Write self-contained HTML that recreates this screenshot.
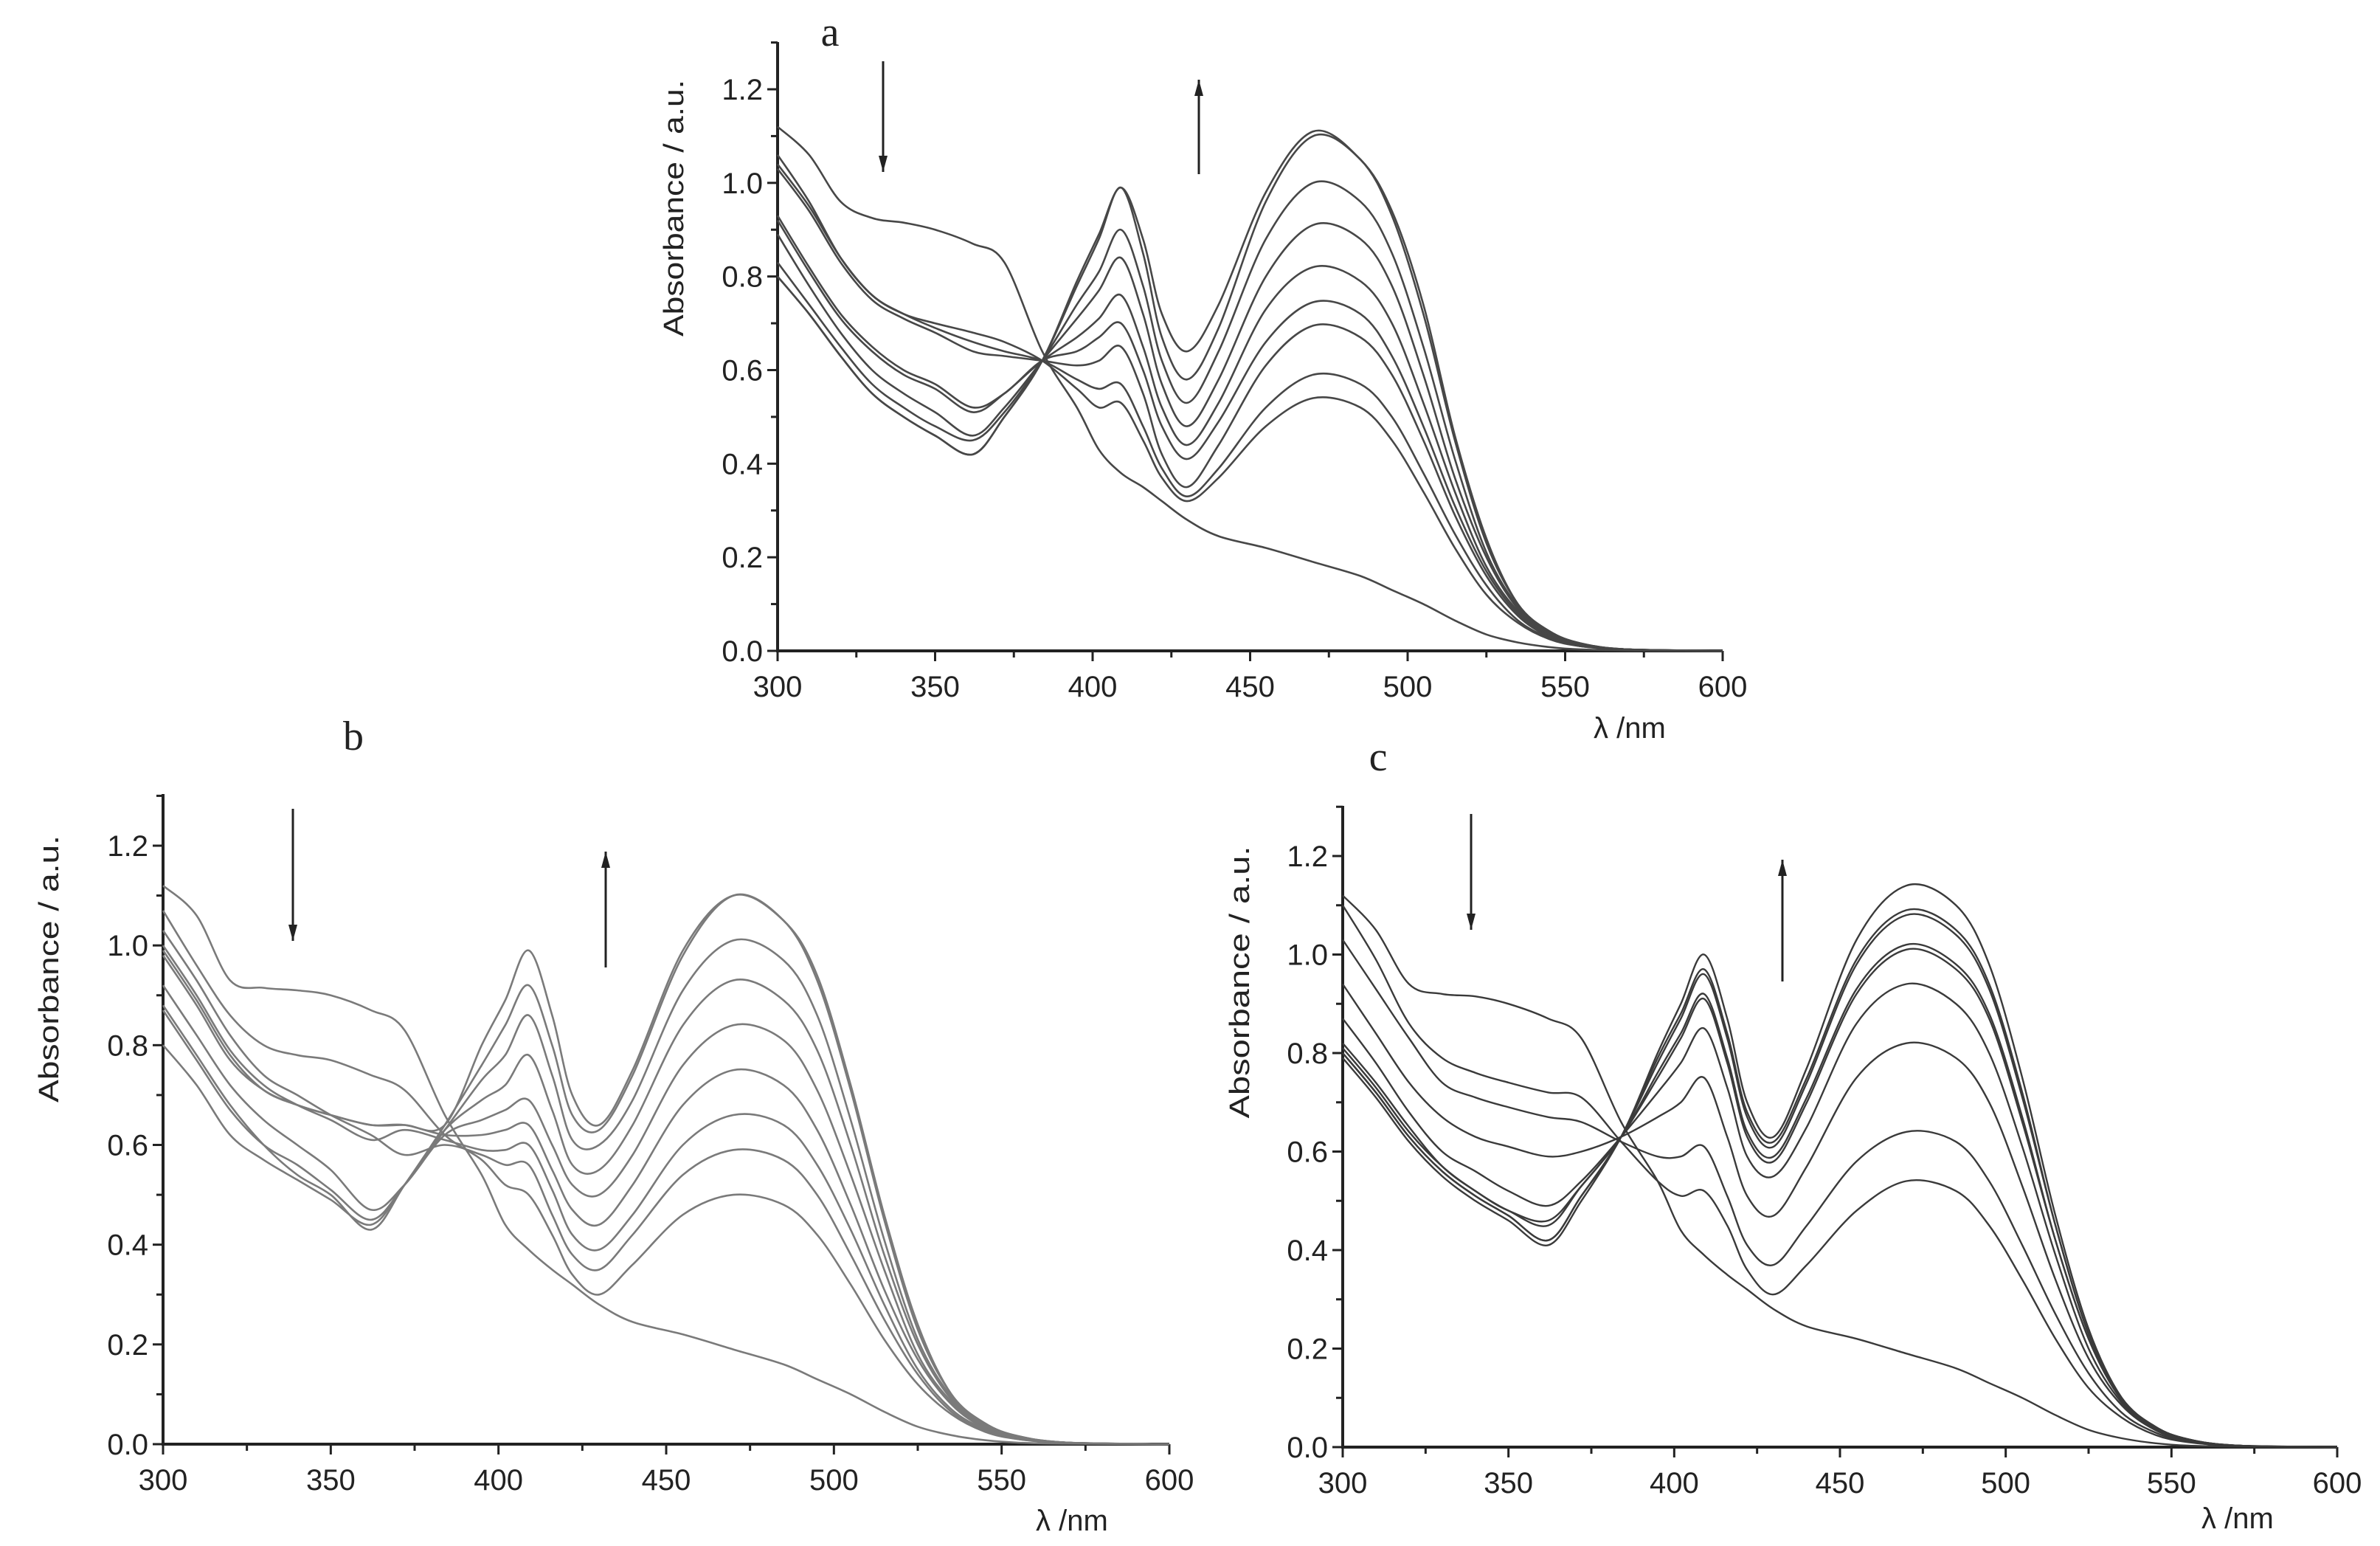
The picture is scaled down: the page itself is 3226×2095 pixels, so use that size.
<!DOCTYPE html>
<html><head><meta charset="utf-8"><style>
html,body{margin:0;padding:0;background:#fff;}
svg{display:block;}
text{font-family:"Liberation Sans",sans-serif;fill:#222;}
</style></head><body>
<svg id="fig" width="3226" height="2095" viewBox="0 0 3226 2095" xmlns="http://www.w3.org/2000/svg"></svg>
<script>
const wavelengths = [300,310,320,330,340,350,362,372,384,395,402,409,416,422,430,440,455,470,485,495,505,515,525,535,545,555,570,600];
const xTicks = [300,350,400,450,500,550,600];
const yTicks = [0.0,0.2,0.4,0.6,0.8,1.0,1.2];
const yTickLabels = ["0.0","0.2","0.4","0.6","0.8","1.0","1.2"];

const seriesA = [
 [1.12,1.06,0.96,0.925,0.915,0.90,0.87,0.83,0.64,0.52,0.43,0.38,0.35,0.32,0.28,0.245,0.22,0.19,0.16,0.13,0.10,0.065,0.035,0.018,0.008,0.003,0.001,0],
 [1.06,0.96,0.84,0.76,0.72,0.70,0.68,0.66,0.62,0.56,0.52,0.53,0.45,0.37,0.32,0.37,0.48,0.54,0.52,0.45,0.34,0.22,0.12,0.06,0.025,0.01,0.003,0],
 [1.04,0.95,0.84,0.76,0.72,0.69,0.66,0.64,0.62,0.58,0.56,0.57,0.48,0.39,0.33,0.39,0.52,0.59,0.57,0.50,0.38,0.25,0.14,0.065,0.028,0.01,0.003,0],
 [1.03,0.94,0.83,0.75,0.71,0.68,0.64,0.63,0.62,0.61,0.62,0.65,0.55,0.42,0.35,0.44,0.61,0.695,0.67,0.59,0.45,0.29,0.16,0.075,0.03,0.012,0.003,0],
 [0.93,0.82,0.72,0.65,0.60,0.57,0.52,0.55,0.62,0.64,0.67,0.70,0.60,0.48,0.41,0.49,0.66,0.745,0.72,0.63,0.48,0.31,0.17,0.08,0.032,0.012,0.003,0],
 [0.92,0.81,0.71,0.64,0.59,0.56,0.51,0.55,0.62,0.67,0.71,0.76,0.65,0.52,0.44,0.53,0.73,0.82,0.79,0.70,0.53,0.34,0.18,0.085,0.035,0.013,0.003,0],
 [0.89,0.78,0.68,0.60,0.55,0.51,0.46,0.52,0.62,0.71,0.77,0.84,0.72,0.57,0.48,0.58,0.80,0.91,0.88,0.78,0.59,0.37,0.20,0.09,0.037,0.014,0.003,0],
 [0.83,0.74,0.65,0.57,0.52,0.48,0.45,0.51,0.62,0.74,0.81,0.90,0.78,0.62,0.53,0.64,0.88,1.00,0.96,0.85,0.65,0.41,0.21,0.095,0.04,0.015,0.003,0],
 [0.80,0.72,0.63,0.55,0.50,0.46,0.42,0.50,0.62,0.78,0.88,0.99,0.85,0.67,0.58,0.69,0.96,1.10,1.05,0.93,0.72,0.45,0.23,0.10,0.042,0.016,0.003,0],
 [0.80,0.72,0.63,0.55,0.50,0.46,0.42,0.50,0.62,0.79,0.89,0.99,0.88,0.72,0.64,0.74,0.98,1.11,1.05,0.94,0.74,0.46,0.24,0.10,0.042,0.016,0.003,0]
];
const seriesB = [
 [1.12,1.06,0.93,0.915,0.91,0.90,0.87,0.83,0.66,0.54,0.44,0.39,0.35,0.32,0.28,0.245,0.22,0.19,0.16,0.13,0.10,0.065,0.035,0.018,0.008,0.003,0.001,0],
 [1.07,0.96,0.86,0.80,0.78,0.77,0.74,0.71,0.62,0.57,0.52,0.50,0.42,0.34,0.30,0.36,0.46,0.50,0.48,0.42,0.32,0.21,0.12,0.06,0.025,0.01,0.003,0],
 [1.03,0.93,0.82,0.74,0.70,0.66,0.62,0.58,0.60,0.58,0.56,0.56,0.46,0.38,0.35,0.42,0.54,0.59,0.57,0.50,0.38,0.25,0.14,0.065,0.028,0.01,0.003,0],
 [1.00,0.90,0.79,0.72,0.68,0.65,0.61,0.63,0.61,0.59,0.59,0.60,0.51,0.42,0.39,0.46,0.60,0.66,0.64,0.56,0.43,0.28,0.15,0.07,0.03,0.011,0.003,0],
 [0.99,0.89,0.78,0.71,0.68,0.66,0.64,0.64,0.62,0.62,0.63,0.64,0.55,0.47,0.44,0.52,0.68,0.75,0.72,0.63,0.48,0.31,0.17,0.08,0.032,0.012,0.003,0],
 [0.92,0.82,0.72,0.65,0.60,0.55,0.47,0.52,0.62,0.65,0.67,0.69,0.60,0.52,0.50,0.58,0.76,0.84,0.81,0.71,0.54,0.35,0.18,0.085,0.035,0.013,0.003,0],
 [0.87,0.77,0.67,0.60,0.56,0.51,0.45,0.52,0.63,0.69,0.72,0.78,0.67,0.56,0.55,0.64,0.84,0.93,0.89,0.79,0.60,0.38,0.20,0.09,0.037,0.014,0.003,0],
 [0.80,0.72,0.62,0.57,0.53,0.49,0.44,0.52,0.63,0.73,0.78,0.86,0.74,0.61,0.60,0.69,0.91,1.01,0.97,0.86,0.65,0.41,0.21,0.095,0.04,0.015,0.003,0],
 [0.88,0.78,0.68,0.60,0.54,0.50,0.43,0.52,0.64,0.76,0.84,0.92,0.80,0.66,0.63,0.74,0.98,1.10,1.05,0.93,0.71,0.45,0.23,0.10,0.042,0.016,0.003,0],
 [0.98,0.88,0.77,0.71,0.68,0.66,0.64,0.64,0.64,0.80,0.89,0.99,0.86,0.70,0.64,0.75,0.99,1.10,1.05,0.94,0.72,0.46,0.24,0.10,0.042,0.016,0.003,0]
];
const seriesC = [
 [1.12,1.05,0.94,0.92,0.915,0.90,0.87,0.83,0.66,0.54,0.44,0.39,0.35,0.32,0.28,0.245,0.22,0.19,0.16,0.13,0.10,0.065,0.035,0.018,0.008,0.003,0.001,0],
 [1.10,0.99,0.86,0.79,0.76,0.74,0.72,0.71,0.62,0.54,0.51,0.52,0.45,0.36,0.31,0.37,0.48,0.54,0.52,0.45,0.34,0.22,0.12,0.06,0.025,0.01,0.003,0],
 [1.03,0.93,0.83,0.74,0.71,0.69,0.67,0.66,0.62,0.59,0.59,0.61,0.51,0.41,0.37,0.45,0.58,0.64,0.62,0.54,0.41,0.27,0.15,0.07,0.03,0.011,0.003,0],
 [0.94,0.84,0.74,0.67,0.63,0.61,0.59,0.60,0.63,0.67,0.70,0.75,0.63,0.51,0.47,0.57,0.75,0.82,0.79,0.70,0.53,0.34,0.18,0.085,0.035,0.013,0.003,0],
 [0.87,0.78,0.68,0.60,0.56,0.52,0.49,0.54,0.63,0.72,0.78,0.85,0.73,0.59,0.55,0.65,0.86,0.94,0.90,0.80,0.61,0.39,0.20,0.09,0.037,0.014,0.003,0],
 [0.82,0.74,0.65,0.57,0.52,0.48,0.46,0.53,0.63,0.75,0.83,0.91,0.78,0.63,0.58,0.70,0.92,1.01,0.97,0.87,0.66,0.42,0.22,0.095,0.04,0.015,0.003,0],
 [0.81,0.73,0.64,0.57,0.52,0.48,0.45,0.53,0.63,0.76,0.84,0.92,0.79,0.64,0.59,0.71,0.93,1.02,0.98,0.88,0.67,0.42,0.22,0.095,0.04,0.015,0.003,0],
 [0.80,0.72,0.63,0.56,0.51,0.47,0.42,0.51,0.63,0.78,0.87,0.96,0.83,0.67,0.61,0.74,0.98,1.08,1.04,0.93,0.71,0.45,0.23,0.10,0.042,0.016,0.003,0],
 [0.79,0.71,0.62,0.55,0.50,0.46,0.41,0.50,0.63,0.79,0.88,0.97,0.84,0.68,0.62,0.75,0.99,1.09,1.05,0.94,0.72,0.45,0.23,0.10,0.042,0.016,0.003,0],
 [0.80,0.72,0.63,0.56,0.51,0.47,0.42,0.51,0.63,0.80,0.90,1.00,0.87,0.70,0.63,0.77,1.03,1.14,1.10,0.98,0.75,0.47,0.24,0.10,0.042,0.016,0.003,0]
];

const NS = "http://www.w3.org/2000/svg";
const svg = document.getElementById('fig');
function mk(tag, attrs, parent){ const e=document.createElementNS(NS,tag); for(const k in attrs) e.setAttribute(k,attrs[k]); (parent||svg).appendChild(e); return e; }

const panels = [
 {id:'a', series:seriesA, x0:1054, x1:2335, y0:882, y12:121, top:57, color:'#474747', w:2.6,
  label:{x:1125,y:62}, ylab:{x:926,y:282,len:348}, xlab:{x:2160,y:1000},
  down:{x:1197,y1:83,y2:233}, up:{x:1625,y1:108,y2:236}},
 {id:'b', series:seriesB, x0:221, x1:1585, y0:1957, y12:1146, top:1076, color:'#7a7a7a', w:2.6,
  label:{x:479,y:1016}, ylab:{x:79,y:1313,len:362}, xlab:{x:1404,y:2074},
  down:{x:397,y1:1096,y2:1275}, up:{x:821,y1:1154,y2:1311}},
 {id:'c', series:seriesC, x0:1820, x1:3168, y0:1961, y12:1160, top:1092, color:'#3a3a3a', w:2.4,
  label:{x:1868,y:1044}, ylab:{x:1693,y:1331,len:369}, xlab:{x:2984,y:2071},
  down:{x:1994,y1:1103,y2:1260}, up:{x:2416,y1:1165,y2:1330}}
];

function arrow(g, x, y1, y2, dir){
  const l = mk('line',{x1:x,y1:y1,x2:x,y2:y2,stroke:'#222','stroke-width':3},g);
  
  
  const tip = dir==='down'? y2 : y1;
  const s = dir==='down'? -1 : 1;
  const p = mk('polygon',{points:`${x-6},${tip+s*22} ${x+6},${tip+s*22} ${x},${tip}`,fill:'#222'},g);
  
  
}

panels.forEach(P=>{
  const g = mk('g',{});
  
  
  const sx = v => P.x0 + (v-300)/300*(P.x1-P.x0);
  const sy = v => P.y0 - v/1.2*(P.y0-P.y12);

  const ya = mk('line',{x1:P.x0,y1:P.top,x2:P.x0,y2:P.y0,stroke:'#222','stroke-width':4},g);
   
  const xa = mk('line',{x1:P.x0-2,y1:P.y0,x2:P.x1,y2:P.y0,stroke:'#222','stroke-width':4},g);
   

  for(let v=0; v<=1.3001; v+=0.1){
    const major = Math.abs(Math.round(v*10)%2)===0;
    const t = mk('line',{x1:P.x0-(major?14:9),y1:sy(v),x2:P.x0,y2:sy(v),stroke:'#222','stroke-width':3},g);
     
  }
  yTicks.forEach((v,i)=>{
    const t = mk('text',{x:P.x0-20,y:sy(v)+14,'font-size':40,'text-anchor':'end'},g);
    t.textContent = yTickLabels[i];
     
  });
  for(let v=300; v<=600; v+=25){
    const major = v%50===0;
    const t = mk('line',{x1:sx(v),y1:P.y0,x2:sx(v),y2:P.y0+(major?14:9),stroke:'#222','stroke-width':3},g);
     
  }
  xTicks.forEach(v=>{
    const t = mk('text',{x:sx(v),y:P.y0+62,'font-size':40,'text-anchor':'middle'},g);
    t.textContent = String(v);
     
  });
  const yl = mk('text',{x:P.ylab.x,y:P.ylab.y,'font-size':38,'text-anchor':'middle',transform:`rotate(-90 ${P.ylab.x} ${P.ylab.y})`,textLength:P.ylab.len,lengthAdjust:'spacingAndGlyphs'},g);
  yl.textContent = 'Absorbance / a.u.';
   
  const xl = mk('text',{x:P.xlab.x,y:P.xlab.y,'font-size':40},g);
  xl.textContent = 'λ /nm';
   
  const pl = mk('text',{x:P.label.x,y:P.label.y,'font-size':56,'text-anchor':'middle',style:'font-family:"Liberation Serif",serif'},g);
  pl.textContent = P.id;
   

  arrow(g, P.down.x, P.down.y1, P.down.y2, 'down');
  arrow(g, P.up.x, P.up.y1, P.up.y2, 'up');

  P.series.forEach((vals,si)=>{
    const pts = vals.map((v,i)=>[sx(wavelengths[i]), sy(v)]);
    let d = `M${pts[0][0].toFixed(1)},${pts[0][1].toFixed(1)}`;
    for(let i=0;i<pts.length-1;i++){
      const p0=pts[Math.max(0,i-1)], p1=pts[i], p2=pts[i+1], p3=pts[Math.min(pts.length-1,i+2)];
      const c1=[p1[0]+(p2[0]-p0[0])/6, p1[1]+(p2[1]-p0[1])/6];
      const c2=[p2[0]-(p3[0]-p1[0])/6, p2[1]-(p3[1]-p1[1])/6];
      d += ` C${c1[0].toFixed(1)},${c1[1].toFixed(1)} ${c2[0].toFixed(1)},${c2[1].toFixed(1)} ${p2[0].toFixed(1)},${p2[1].toFixed(1)}`;
    }
    const path = mk('path',{d:d,fill:'none',stroke:P.color,'stroke-width':P.w,'stroke-linejoin':'round'},g);
    
    
  });
});
</script>
</body></html>
